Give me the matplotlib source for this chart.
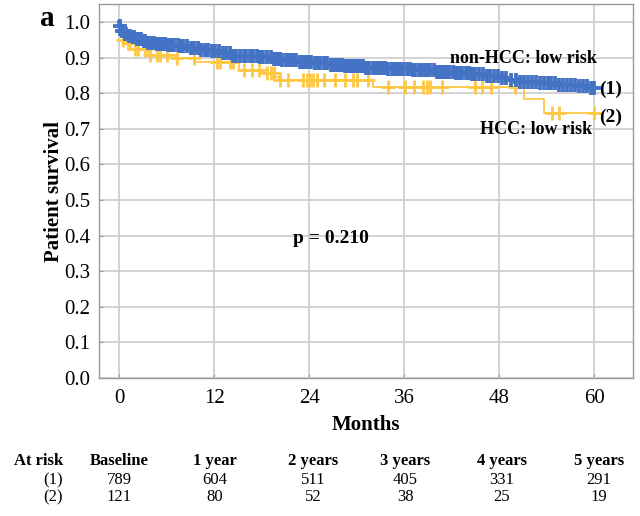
import numpy as np
import matplotlib
matplotlib.use("Agg")
import matplotlib.pyplot as plt

plt.rcParams['font.family'] = ['Liberation Serif', 'DejaVu Serif']

# ---- Data ----
# Group (1): non-HCC low risk -- step times (months) and survival after each step
t1 = [0.0, 0.1, 0.3, 0.6, 1.0, 1.5, 2.2, 2.8, 3.5, 4.5, 6.0, 7.5, 9.0, 10.0, 11.5,
      13.0, 14.3, 17.5, 19.5, 20.5, 22.5, 24.5, 26.5, 28.5, 31.0, 34.0, 37.0, 40.0,
      42.5, 44.5, 46.0, 48.0, 49.5, 50.5, 53.0, 55.5, 58.0, 59.5]
s1 = [1.000, 0.990, 0.975, 0.968, 0.962, 0.957, 0.952, 0.947, 0.942, 0.938, 0.935,
      0.932, 0.927, 0.922, 0.918, 0.912, 0.905, 0.901, 0.897, 0.893, 0.889, 0.885,
      0.880, 0.876, 0.872, 0.868, 0.865, 0.861, 0.857, 0.853, 0.849, 0.843, 0.837,
      0.832, 0.828, 0.824, 0.820, 0.816]
c1 = [0.1, 0.3, 0.5, 0.7, 0.9, 1.2, 1.4, 1.7, 1.9, 2.2, 2.5, 2.7, 3.1, 3.3, 3.6, 3.9,
      4.2, 4.4, 4.8, 5.1, 5.4, 5.8, 6.1, 6.5, 6.9, 7.4, 7.7, 8.1, 8.6, 9.0, 9.4, 9.9,
      10.3, 10.8, 11.2, 11.7, 12.1, 12.6, 13.1, 13.5, 14.0, 14.4, 14.8, 15.2, 15.7,
      16.0, 16.5, 16.9, 17.4, 17.8, 18.2, 18.7, 19.1, 19.5, 19.9, 20.3, 20.6, 21.0,
      21.3, 21.7, 22.0, 22.3, 22.8, 23.1, 23.5, 23.8, 24.2, 24.7, 25.1, 25.4, 25.8,
      26.2, 26.7, 27.0, 27.4, 27.8, 28.1, 28.5, 28.9, 29.3, 29.6, 30.0, 30.4, 30.8,
      31.2, 31.6, 32.0, 32.4, 32.8, 33.2, 33.6, 34.0, 34.4, 34.7, 35.1, 35.5, 35.9,
      36.3, 36.7, 37.1, 37.4, 37.8, 38.2, 38.6, 38.9, 39.3, 39.7, 40.1, 40.5, 40.9,
      41.3, 41.7, 42.1, 42.5, 42.9, 43.3, 43.8, 44.2, 44.6, 45.0, 45.5, 45.9, 46.4,
      46.8, 47.3, 47.8, 48.4, 48.9, 49.5, 50.1, 50.6, 51.1, 51.6, 52.1, 52.6, 53.1,
      53.6, 54.1, 54.6, 55.1, 55.6, 56.1, 56.6, 57.1, 57.6, 58.1, 58.6, 59.1, 59.6, 60.0]

# Group (2): HCC low risk
t2 = [0.0, 0.1, 0.4, 0.8, 1.5, 3.5, 3.8, 7.0, 9.5, 15.1, 18.2, 19.6, 20.2, 32.0, 51.1, 53.6]
s2 = [1.000, 0.959, 0.950, 0.942, 0.925, 0.917, 0.908, 0.898, 0.889, 0.865, 0.856,
      0.847, 0.837, 0.817, 0.783, 0.746]
c2 = [0.5, 1.1, 2.0, 2.4, 3.2, 3.9, 4.7, 5.1, 6.0, 7.3, 9.4, 12.3, 12.7, 14.0, 14.4,
      15.7, 16.7, 17.6, 18.6, 19.1, 19.5, 20.3, 21.3, 23.2, 23.7, 24.1, 24.5, 25.0,
      25.8, 27.3, 28.5, 29.5, 30.0, 31.4, 34.0, 36.1, 37.2, 38.4, 38.9, 39.3, 40.8,
      45.0, 45.8, 46.9, 50.0, 54.7, 55.5, 60.0]
t_end = 60.0

xticks = [0, 12, 24, 36, 48, 60]
yticks = [0.0, 0.1, 0.2, 0.3, 0.4, 0.5, 0.6, 0.7, 0.8, 0.9, 1.0]

risk_headers = ["At risk", "Baseline", "1 year", "2 years", "3 years", "4 years", "5 years"]
risk_labels = ["(1)", "(2)"]
risk_1 = [789, 604, 511, 405, 331, 291]
risk_2 = [121, 80, 52, 38, 25, 19]

blue = "#4472C4"
yellow = "#FFC843"

fig = plt.figure(figsize=(6.4, 5.16), dpi=100)
ax = fig.add_axes([99/640, 1-378/516, (633-99)/640, (378-4)/516])


def km(times, surv, cens, color, lw, ms, mew, z):
    xs = list(times) + [t_end]
    ys = list(surv) + [surv[-1]]
    ax.step(xs, ys, where='post', color=color, lw=lw, zorder=z)
    tt = np.asarray(times)
    ss = np.asarray(surv)
    cc = np.asarray(cens)
    idx = np.searchsorted(tt, cc, side='right') - 1
    ax.plot(cc, ss[idx], ls='none', marker='+', color=color, ms=ms, mew=mew, zorder=z)


km(t2, s2, c2, yellow, 1.3, 10, 2.0, 3)
km(t1, s1, c1, blue, 2.7, 9.5, 2.7, 4)

ax.set_xlim(-2.57, 64.9)
ax.set_ylim(0, 1.051)
ax.set_xticks(xticks)
ax.set_yticks(yticks)
ax.set_yticklabels([f"{v:.1f}" for v in yticks])
ax.grid(True, color="#CCCCCC", lw=1.2)
ax.set_axisbelow(True)
for sp in ax.spines.values():
    sp.set_color("#999999")
    sp.set_linewidth(1.0)
ax.tick_params(direction='in', length=3, color="#999999", labelsize=15, pad=6)
ax.tick_params(axis='x', pad=8)

ax.set_xlabel("Months", fontsize=15, fontweight='bold', va='center')
ax.xaxis.set_label_coords(0.5, (378-425)/374)
ax.set_ylabel("Patient survival", fontsize=15, fontweight='bold', va='center')
ax.yaxis.set_label_coords((54-99)/534, 0.5)

ax.text(26.7, 0.393, "p = 0.210", fontsize=14, fontweight='bold', ha='center', va='center')
ax.text(51.0, 0.899, "non-HCC: low risk", fontsize=13, fontweight='bold', ha='center', va='center')
ax.text(52.6, 0.697, "HCC: low risk", fontsize=13, fontweight='bold', ha='center', va='center')
ax.text(62.1, 0.812, "(1)", fontsize=14, fontweight='bold', ha='center', va='center')
ax.text(62.1, 0.733, "(2)", fontsize=14, fontweight='bold', ha='center', va='center')

fig.text(47/640, 1-18/516, "a", fontsize=21, fontweight='bold', ha='center', va='center')

# At-risk table
col_x = [39, 119, 215, 313, 405, 502, 599]
row_y = [461, 480, 497]
for x, h in zip(col_x, risk_headers):
    fig.text(x/640, 1-row_y[0]/516, h, fontsize=12, fontweight='bold', ha='center', va='center')
for r, (lab, vals) in enumerate(zip(risk_labels, [risk_1, risk_2])):
    y = 1-row_y[r+1]/516
    fig.text(63/640, y, lab, fontsize=12, ha='right', va='center')
    for x, v in zip(col_x[1:], vals):
        fig.text(x/640, y, str(v), fontsize=12, ha='center', va='center')

fig.savefig("out.png", dpi=100)
